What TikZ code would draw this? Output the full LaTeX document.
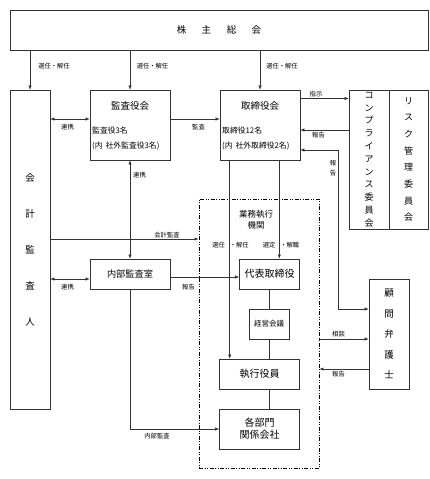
\documentclass[tikz,border=0pt]{standalone}
\usepackage{fontspec}
\setmainfont{Noto Sans CJK JP}
\usetikzlibrary{arrows.meta}

\begin{document}
\begin{tikzpicture}[x=1pt,y=-1pt,>={Latex[length=4pt,width=3.2pt]},
    box/.style={draw=black!80,line width=0.6pt,inner sep=0pt,align=center,font=\fontsize{9.5}{11}\selectfont},
    con/.style={draw=black!80,line width=0.5pt},
    lab/.style={inner sep=0pt,align=center,font=\fontsize{6.3}{9.5}\selectfont},
    inner/.style={inner sep=0pt,anchor=west,font=\fontsize{7.8}{9}\selectfont}]
    \useasboundingbox (0,0) rectangle (429,479);

    % draw the boxes
    \node[box,minimum width=418pt,minimum height=40pt] (soukai) at (219,30)
        {株\hspace{15.5pt}主\hspace{15.5pt}総\hspace{15.5pt}会};
    \node[box,minimum width=40pt,minimum height=319pt,font=\fontsize{9.5}{36}\selectfont] (kaikei) at (30,249.5)
        {会\\計\\監\\査\\人};
    \node[box,minimum width=80pt,minimum height=70pt] (kansa) at (130,125) {};
    \node[box,minimum width=80pt,minimum height=70pt] (torishimari) at (260,125) {};
    \node[box,minimum width=40pt,minimum height=139pt,font=\fontsize{9}{12.8}\selectfont] (comp) at (369,159.5)
        {コ\\ン\\プ\\ラ\\イ\\ア\\ン\\ス\\委\\員\\会};
    \node[box,minimum width=39pt,minimum height=139pt,font=\fontsize{9}{16.7}\selectfont] (risk) at (408.5,159.5)
        {リ\\ス\\ク\\管\\理\\委\\員\\会};
    \node[box,minimum width=80pt,minimum height=30pt,font=\fontsize{9.2}{11}\selectfont] (naibu) at (130,274) {内部監査室};
    \node[draw,line width=0.9pt,dash pattern=on 4pt off 1.5pt on 1pt off 1.5pt on 1pt off 1.5pt,
        minimum width=120pt,minimum height=269pt] (kikan) at (259,333.5) {};
    \node[box,minimum width=60pt,minimum height=30pt,font=\fontsize{10}{12}\selectfont] (daihyo) at (269.5,274) {代表取締役};
    \node[box,minimum width=40pt,minimum height=30pt,font=\fontsize{7.5}{9}\selectfont] (keiei) at (269,324) {経営会議};
    \node[box,minimum width=80pt,minimum height=30pt,font=\fontsize{10}{12}\selectfont] (shikko) at (259.5,374) {執行役員};
    \node[box,minimum width=80pt,minimum height=40pt,font=\fontsize{10}{12}\selectfont] (kakubu) at (259.5,429) {各部門\\関係会社};
    \node[box,minimum width=40pt,minimum height=110pt,font=\fontsize{9.5}{20.5}\selectfont] (komon) at (389,334)
        {顧\\問\\弁\\護\\士};

    % text inside the boxes
    \node[inner sep=0pt,font=\fontsize{9.5}{11}\selectfont] (kansat) at (130,106) {監査役会};
    \node[inner] (kansa1) at (92,131) {監査役3名};
    \node[inner] (kansa2) at (92,146) {(内\hspace{3pt}社外監査役3名)};
    \node[inner sep=0pt,font=\fontsize{9.5}{11}\selectfont] (torit) at (260,106) {取締役会};
    \node[inner] (tori1) at (222,131) {取締役12名};
    \node[inner] (tori2) at (222,146) {(内\hspace{3pt}社外取締役2名)};
    \node[inner sep=0pt,align=center,font=\fontsize{8.5}{11}\selectfont] (kikant) at (256,220) {業務執行\\機関};

    % 選任・解任 from the meeting
    \draw[con,->] (soukai.south -| kaikei.north) -- (kaikei.north);
    \draw[con,->] (soukai.south -| kansa.north) -- (kansa.north);
    \draw[con,->] (soukai.south -| torishimari.north) -- (torishimari.north);
    \node[lab] (lsen1) at (54,66) {選任・解任};
    \node[lab] (lsen2) at (152.5,66) {選任・解任};
    \node[lab] (lsen3) at (282,66) {選任・解任};

    % upper row
    \draw[con,<->] ([yshift=6pt]kansa.west -| kaikei.east) -- ([yshift=6pt]kansa.west);
    \node[lab] (lren1) at (67.5,127) {連携};
    \draw[con,->] ([yshift=6pt]kansa.east) -- ([yshift=6pt]torishimari.west);
    \node[lab] (lkansa) at (198.5,127) {監査};
    \draw[con,->] ([yshift=26.5pt]torishimari.east) -- ([yshift=26.5pt]torishimari.east -| comp.west);
    \node[lab] (lshiji) at (316,94) {指示};
    \draw[con,->] ([yshift=-5pt]torishimari.east -| comp.west) -- ([yshift=-5pt]torishimari.east);
    \node[lab] (lhou1) at (318.5,135.5) {報告};
    \draw[con,<->] ([yshift=-25pt]torishimari.east) -| ([xshift=-30pt,yshift=25pt]komon.west) -- ([yshift=25pt]komon.west);
    \node[lab] (lhou2) at (333,168) {報\\告};

    % internal audit
    \draw[con,<->] (kansa.south) -- (naibu.north);
    \node[lab] (lren2) at (139.5,175) {連携};
    \draw[con,->] ([yshift=10.5pt]kaikei.east) -- ([yshift=10.5pt]kaikei.east -| kikan.west);
    \node[lab] (lkaikei) at (167,235) {会計監査};
    \draw[con,<->] ([yshift=-5pt]naibu.west -| kaikei.east) -- ([yshift=-5pt]naibu.west);
    \node[lab] (lren3) at (67.5,287) {連携};
    \draw[con,->] ([yshift=-3pt]naibu.east) -- ([yshift=-3pt]daihyo.west);
    \node[lab] (lhou3) at (188.5,287) {報告};
    \draw[con,->] (naibu.south) |- (kakubu.west);
    \node[lab] (lnaibu) at (157,436) {内部監査};

    % board to executives
    \draw[con,->] ([xshift=10pt]torishimari.south west) -- ([xshift=10pt]torishimari.south west |- shikko.north);
    \draw[con,->] ([xshift=-21pt]torishimari.south east) -- ([xshift=-21pt]torishimari.south east |- daihyo.north);
    \node[lab] (lsen4) at (230.5,245) {選任\hspace{5pt}・解任};
    \node[lab] (lsen5) at (281,245) {選定\hspace{5pt}・解職};
    \draw[con] (daihyo.south -| keiei.north) -- (keiei.north);
    \draw[con] (keiei.south) -- (keiei.south |- shikko.north);
    \draw[con] (shikko.south -| keiei.south) -- (kakubu.north -| keiei.south);

    % lawyer
    \draw[con,->] ([yshift=-5pt]komon.west -| kikan.east) -- ([yshift=-5pt]komon.west);
    \node[lab] (lsoudan) at (338.5,334) {相談};
    \draw[con,->] ([yshift=-35pt]komon.west) -- ([yshift=-35pt]komon.west -| kikan.east);
    \node[lab] (lhou4) at (338.5,374) {報告};
\end{tikzpicture}
\end{document}
